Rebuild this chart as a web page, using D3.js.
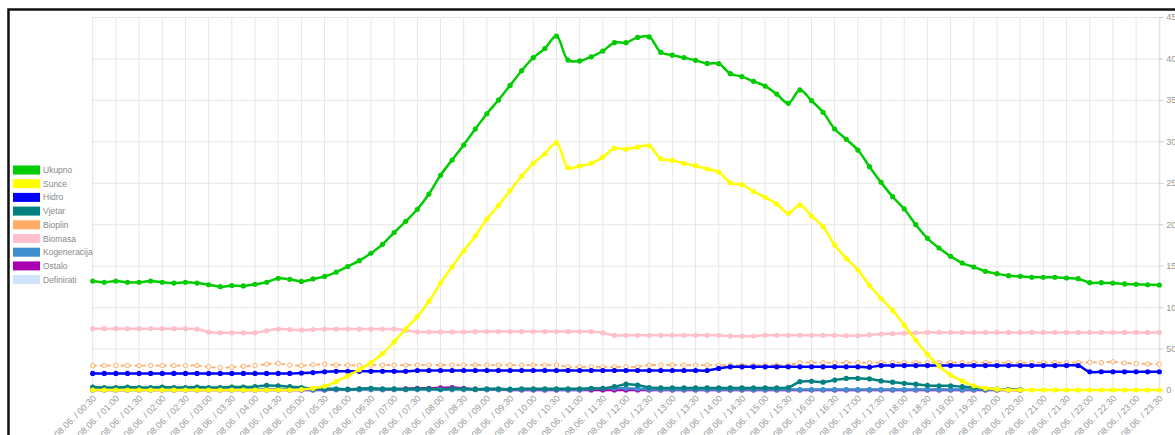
<!DOCTYPE html>
<html>
<head>
<meta charset="utf-8">
<script src="https://cdn.jsdelivr.net/npm/d3@7"></script>
<style>
  html, body { margin: 0; padding: 0; background: #ffffff; overflow: hidden; }
  svg { display: block; font-family: "Liberation Sans", Arial, sans-serif; }
</style>
</head>
<body>
<svg id="chart" width="1175" height="435"></svg>
<script>
// ---------- DATA ----------
const times = [
  "00:30","00:45","01:00","01:15","01:30","01:45","02:00","02:15","02:30","02:45",
  "03:00","03:15","03:30","03:45","04:00","04:15","04:30","04:45","05:00","05:15",
  "05:30","05:45","06:00","06:15","06:30","06:45","07:00","07:15","07:30","07:45",
  "08:00","08:15","08:30","08:45","09:00","09:15","09:30","09:45","10:00","10:15",
  "10:30","10:45","11:00","11:15","11:30","11:45","12:00","12:15","12:30","12:45",
  "13:00","13:15","13:30","13:45","14:00","14:15","14:30","14:45","15:00","15:15",
  "15:30","15:45","16:00","16:15","16:30","16:45","17:00","17:15","17:30","17:45",
  "18:00","18:15","18:30","18:45","19:00","19:15","19:30","19:45","20:00","20:15",
  "20:30","20:45","21:00","21:15","21:30","21:45","22:00","22:15","22:30","22:45",
  "23:00","23:15","23:30"
];
const datePrefix = "08.06. / ";
const yTicks = [0, 50, 100, 150, 200, 250, 300, 350, 400, 450];

const ukupno = [
  131.5,130,131.5,130,130,131.5,130,129,130,129,
  127,124.6,126,125.5,127.5,130,134.7,133.5,131,134,
  137,142.3,149,156,165,175.7,190,203.5,218,236.4,
  259,277.5,295.6,314.9,333.3,349.8,367.5,385.2,400.9,412,
  427,398,397,402,409,419,419,425.4,426,407.4,
  404,401,397.7,394,393.7,381.6,378,372.4,366.7,357,
  345.8,362,349,335,314.9,302.4,289.5,269.4,250.5,233.2,
  218.4,199.4,183,171.3,161.3,153.2,148.4,143.2,140.3,137.9,
  137.1,136,136,136,135.1,134.3,129.5,129.5,129,128,
  127.5,127,126.7
];
const sunce = [
  0,0,0,0,0,0,0,0,0,0,
  0,0,0,0,0,0,0,0,0.5,2,
  4.5,10,17,24.5,33,44,58,73.5,88.5,107,
  129,148.7,167.7,185.8,206.3,222.8,240.4,258.2,273.5,285,
  298.4,268.2,270.2,273.5,281,291.6,290.4,293,294.7,279,
  277,273.5,270.6,266.6,263,250,247.7,239.5,232.4,224.4,
  213.1,223.2,209.9,197,175,158.9,144.8,126.3,110.6,96,
  78,60,43,29,18,11,5,2,1,0,
  0,0,0,0,0,0,0,0,0,0,
  0,0,0
];
const hidro = [
  20,20,20,20,20,20,20,20,20,20,
  20,20,20,20,20,20,20,20,20.5,21,
  22,22.5,22.5,22.5,22.5,22.5,22.5,22.5,23.5,23.5,
  23.5,23.5,23.5,23.5,23.5,23.5,23.5,23.5,23.5,23.5,
  23.5,23.5,23.5,23.5,23.5,23.5,23.5,23.5,23.5,23.5,
  23.5,23.5,23.5,23.5,26,28,28,28,28,28,
  28,28,28,28,28,28,28,27.5,29.5,29.5,
  29.5,29.5,29.5,29.5,29.5,29.5,29.5,29.5,29.5,29.5,
  29.5,29.5,29.5,29.5,29.5,29.5,22,22,22,22,
  22,22,22
];
const vjetar = [
  3.5,3,3,3.5,3,3,3.5,3,3,3.5,
  3,3,3.5,3.5,4,5.5,5,4,3,1.5,
  1.5,1.5,1,1.5,2,1.5,1.5,1,1.5,1.5,
  1,1.5,1.5,1,1.5,1.5,1,1.5,1.5,1.5,
  1.5,1.5,1.5,2,2,4,7,6,3,2.5,
  2.5,2.5,2.5,2.5,2.5,2.5,2.5,2.5,2.5,2.5,
  3,10,10.5,9.5,12,14,14,13.5,11,9.5,
  8,7,5.5,5,5,4,3,1.5,1,0.5,
  0,null,null,null,null,null,null,null,null,null,
  null,null,null
];
const bioplin = [
  29.5,29.5,29.5,29.5,29.5,29.5,29.5,29.5,29.5,29.5,
  28,27,27.5,28.5,29.5,31,32,30,29.5,30.5,
  31,30,30,29.5,30,30,30,30,30,30,
  30,30,30,30,30,30,30,30,30,30,
  30,28,28,28,28,28,28,28,30,30,
  30,30,30,30,30,30,30,30,30,30,
  30,33,33,33,33,33,33,33,33,33,
  33,33,33,33,33,33,33,33,33,33,
  33,33,33,33,33,33,33.5,33,34,32.5,
  32,31.5,31
];
const biomasa = [
  74,74,74,74,74,74,74,74,74,73.5,
  70,69,69,69,69,71.5,73.5,73,72.5,73,
  73.5,73.5,73.5,73.5,73.5,73.5,73.5,72,70,70,
  70,70,70,70.5,70.5,70.5,70.5,70.5,70.5,70.5,
  70.5,70.5,70.5,70.5,69,66,66,66,66,66,
  66,66,66,66,66,65,65,65,66,66,
  66,66,66,66,66,65.5,65.5,66.5,67.5,68,
  68.5,69,69.5,69.5,69.5,69.5,69.5,69.5,69.5,69.5,
  69.5,69.5,69.5,69.5,69.5,69.5,69.5,69.5,69.5,69.5,
  69.5,69.5,69.5
];
const kogeneracija = [
  0.5,0.5,0.5,0.5,0.5,0.5,0.5,0.5,0.5,0.5,
  0.5,0.5,0.5,0.5,0.5,0.5,0.5,0.5,0.5,0.5,
  0.5,0.5,0.5,0.5,0.5,0.5,0.5,0.5,0.5,0.5,
  0.5,0.5,0.5,0.5,0.5,0.5,0.5,0.5,0.5,0.5,
  0.5,0.5,0.5,1.5,2,2,2,1.5,1,0.5,
  0.5,0.5,0.5,0.5,0.5,0.5,0.5,0.5,0.5,0.5,
  0.5,0.5,0.5,0.5,0.5,0.5,0.5,0.5,0.5,0.5,
  0.5,0.5,0.5,0.5,0.5,0.5,0.5,0.5,0.5,0.5,
  0.5,null,null,null,null,null,null,null,null,null,
  null,null,null
];
const ostalo = [
  0,0,0,0,0,0,0,0,0,0,
  0,0,0,0,0,0,0,0,0,0,
  0,0.5,0.5,1,1,0.5,1,1.5,2,2,
  2.5,3,2,1,0.5,0.5,0,0,0,0,
  0,0,0,0,0,0,0,0,0,0,
  0,0,0,0,0,0,0,0,0,0,
  0,0,0,0,0,0,0,0,0,0,
  0,0,0,0,0,0,0,0,0,0,
  0,null,null,null,null,null,null,null,null,null,
  null,null,null
];
const definirati = [
  0,0,0,0,0,0,0,0,0,0,
  0,0,0,0,0,0,0,0,0,0,
  0,0,0,0,0,0,0,0,0,0,
  0,0,0,0,0,0,0,0,0,0,
  0,0,0,0,0,0,0,0,0,0,
  0,0,0,0,0,0,0,0,0,0,
  0,0,0,0,0,0,0,0,0,0,
  0,0,0,0,0,0,0,0,0,0,
  0,null,null,null,null,null,null,null,null,null,
  null,null,null
];

const seriesNames = ["Ukupno","Sunce","Hidro","Vjetar","Bioplin","Biomasa","Kogeneracija","Ostalo","Definirati"];
const seriesValues = [ukupno, sunce, hidro, vjetar, bioplin, biomasa, kogeneracija, ostalo, definirati];
const seriesColors = ["#00cc00","#ffff00","#0000ff","#008080","#ffad66","#ffc0cb","#3d8fce","#aa00b4","#cfe4fa"];
const seriesDashed = [false,false,false,false,true,false,false,false,false];

// ---------- LAYOUT ----------
const svg = d3.select("#chart");
const plotLeft = 92.7, plotRight = 1159.3, plotTop = 17, plotBottom = 390;

const x = d3.scalePoint().domain(times).range([plotLeft, plotRight]);
const y = d3.scaleLinear().domain([0, 450]).range([plotBottom, plotTop]);

// outer frame
svg.append("rect")
  .attr("x", 8.5).attr("y", 9.5).attr("width", 1300).attr("height", 600)
  .attr("fill", "none").attr("stroke", "#111").attr("stroke-width", 2.5);

const tickTimes = times.filter((t, i) => i % 2 === 0);

// grid
const grid = svg.append("g").attr("class", "grid");
grid.selectAll("line.h").data(yTicks).enter().append("line")
  .attr("x1", plotLeft).attr("x2", plotRight)
  .attr("y1", d => y(d) + 0.5).attr("y2", d => y(d) + 0.5)
  .attr("stroke", "#e6e6e6").attr("stroke-width", 1);
grid.selectAll("line.v").data(tickTimes).enter().append("line")
  .attr("x1", d => x(d)).attr("x2", d => x(d))
  .attr("y1", plotTop).attr("y2", plotBottom)
  .attr("stroke", "#e6e6e6").attr("stroke-width", 1);

// right y axis
const yAxis = d3.axisRight(y).tickValues(yTicks).tickSize(4).tickPadding(3);
const ya = svg.append("g").attr("transform", `translate(${plotRight},0)`).call(yAxis);
ya.select(".domain").attr("stroke", "#e0e0e0");
ya.selectAll(".tick line").attr("stroke", "#cccccc");
ya.selectAll(".tick text").attr("fill", "#999").attr("font-size", 9)
  .attr("font-family", "Liberation Sans, Arial, sans-serif");

// x labels (rotated)
svg.append("g").selectAll("text").data(tickTimes).enter().append("text")
  .attr("transform", d => `translate(${x(d) + 4},${plotBottom + 9}) rotate(-45)`)
  .attr("text-anchor", "end")
  .attr("fill", "#999").attr("font-size", 9)
  .text(d => datePrefix + d);

// series (draw reverse order so Ukupno is on top)
const line = d3.line()
  .defined(d => d.v !== null)
  .x(d => x(d.t)).y(d => y(d.v))
  .curve(d3.curveCatmullRom.alpha(0.5));

const order = d3.range(seriesNames.length).reverse();
order.forEach(k => {
  const pts = times.map((t, i) => ({ t, v: seriesValues[k][i] }));
  const dashed = seriesDashed[k];
  const g = svg.append("g");
  g.append("path").datum(pts)
    .attr("d", line)
    .attr("fill", "none")
    .attr("stroke", seriesColors[k])
    .attr("stroke-width", dashed ? 1.8 : 2.5)
    .attr("stroke-dasharray", dashed ? "4,3" : null)
    .attr("stroke-linejoin", "round");
  g.selectAll("circle").data(pts.filter(d => d.v !== null)).enter().append("circle")
    .attr("cx", d => x(d.t)).attr("cy", d => y(d.v))
    .attr("r", dashed ? 2.2 : 2.6)
    .attr("fill", dashed ? "#ffffff" : seriesColors[k])
    .attr("stroke", seriesColors[k])
    .attr("stroke-width", dashed ? 1 : 0);
});

// legend
const legend = svg.append("g");
const legTop = 170, legStep = 13.7;
seriesNames.forEach((name, k) => {
  const cy = legTop + k * legStep;
  legend.append("rect")
    .attr("x", 13).attr("y", cy - 4.5).attr("width", 27).attr("height", 9)
    .attr("fill", seriesColors[k]);
  legend.append("text")
    .attr("x", 43).attr("y", cy + 3)
    .attr("fill", "#888").attr("font-size", 8.5)
    .text(name);
});
</script>
</body>
</html>
